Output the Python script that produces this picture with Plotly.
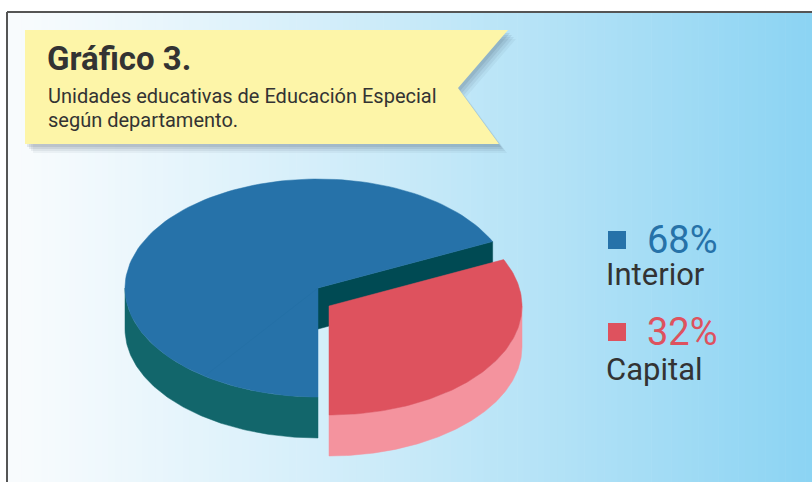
import numpy as np
import plotly.graph_objects as go

# ---- data ----
categories = ["Interior", "Capital"]
shares = [68, 32]
share_labels = ["68%", "32%"]
title_text = "Gráfico 3."
subtitle_lines = ["Unidades educativas de Educación Especial", "según departamento."]

# ---- style ----
W, H = 812, 482
TOP = {"Interior": "#2672A9", "Capital": "#DE525E"}
SIDE = {"Interior": "#12666B", "Capital": "#F4939E"}
INNER = "#004A53"
TXT = "#333333"
CX, CY = 318, 288
RX, RY = 193, 109
DEPTH = 41
EXPLODE = (11, 18)
START = -90.0  # Capital starts at front (bottom) going counter-clockwise

def arc(a0, a1, dx=0, dy=0, n=120):
    t = np.radians(np.linspace(a0, a1, n))
    return list(CX + dx + RX * np.cos(t)), list(CY + dy - RY * np.sin(t))

fig = go.Figure()

def poly(xs, ys, color):
    fig.add_trace(go.Scatter(x=xs + [xs[0]], y=ys + [ys[0]], mode="lines", fill="toself",
                             fillcolor=color, line=dict(width=0.5, color=color),
                             hoverinfo="skip", showlegend=False))

# angles from data
cap_share = shares[categories.index("Capital")]
cap_a0 = START
cap_a1 = START + cap_share / 100 * 360
int_a0 = cap_a1
int_a1 = START + 360

# Interior: outer wall (visible front half, 180..270)
wa0, wa1 = max(int_a0, 180), min(int_a1, 360)
tx, ty = arc(wa0, wa1)
bx, by = arc(wa1, wa0, dy=DEPTH)
poly(tx + bx, ty + by, SIDE["Interior"])
# Interior: inner cut face exposed by exploded slice
ex, ey = arc(int_a0, int_a0, n=1)
poly([CX, ex[0], ex[0], CX], [CY, ey[0], ey[0] + DEPTH, CY + DEPTH], INNER)
# Interior: top
ax_, ay_ = arc(int_a0, int_a1)
poly([CX] + ax_, [CY] + ay_, TOP["Interior"])
# faint seam on top surface
sx, sy = arc(234, 234, n=1)
fig.add_trace(go.Scatter(x=[CX, sx[0]], y=[CY, sy[0]], mode="lines",
                         line=dict(color="#2470A6", width=1), hoverinfo="skip", showlegend=False))

# Capital (exploded)
dx, dy = EXPLODE
wa0, wa1 = max(cap_a0, -180), min(cap_a1, 0)
tx, ty = arc(wa0, wa1, dx, dy)
bx, by = arc(wa1, wa0, dx, dy + DEPTH)
poly(tx + bx, ty + by, SIDE["Capital"])
ax_, ay_ = arc(cap_a0, cap_a1, dx, dy)
poly([CX + dx] + ax_, [CY + dy] + ay_, TOP["Capital"])

# legend markers
leg_y = [240, 332]
lab_y = [274, 369]
fig.add_trace(go.Scatter(x=[617, 617], y=leg_y, mode="markers",
                         marker=dict(symbol="square", size=18,
                                     color=[TOP[c] for c in categories], line=dict(width=0)),
                         hoverinfo="skip", showlegend=False))

shapes = []
# gradient background (inside frame)
N = 120
c0 = np.array([249, 252, 254]); c1 = np.array([140, 212, 243])
x_left = 8
for i in range(N):
    xa = x_left + (W - x_left) * i / N
    xb = x_left + (W - x_left) * (i + 1) / N + 0.6
    t = ((i + 0.5) / N) ** 1.15
    c = c0 + (c1 - c0) * t
    shapes.append(dict(type="rect", xref="x", yref="y", x0=xa, x1=xb, y0=13, y1=H,
                       fillcolor="rgb(%d,%d,%d)" % tuple(c.astype(int)), line=dict(width=0), layer="below"))
# frame
shapes.append(dict(type="line", xref="x", yref="y", x0=7, x1=7, y0=12, y1=H,
                   line=dict(color="#555555", width=2), layer="below"))
shapes.append(dict(type="line", xref="x", yref="y", x0=7, x1=W, y0=12, y1=12,
                   line=dict(color="#555555", width=2), layer="below"))
# banner shadow
def banner_path(ox, oy):
    pts = [(25, 30), (508, 30), (458, 88), (499, 144), (25, 144)]
    return "M " + " L ".join("%g,%g" % (x + ox, y + oy) for x, y in pts) + " Z"
for ox, oy, op in [(8, 9, 0.05), (6, 7, 0.07), (4, 5, 0.09), (2, 3, 0.1)]:
    shapes.append(dict(type="path", xref="x", yref="y", path=banner_path(ox, oy),
                       fillcolor="rgba(40,60,80,%g)" % op, line=dict(width=0), layer="below"))
shapes.append(dict(type="path", xref="x", yref="y", path=banner_path(0, 0),
                   fillcolor="#FDF5A8", line=dict(width=0), layer="below"))

annotations = [
    dict(x=45, y=58, text="<b>%s</b>" % title_text, showarrow=False, xanchor="left", yanchor="middle",
         font=dict(family="Roboto", size=33, color=TXT)),
    dict(x=46, y=96, text=subtitle_lines[0], showarrow=False, xanchor="left", yanchor="middle",
         font=dict(family="Roboto", size=20, color=TXT)),
    dict(x=46, y=120, text=subtitle_lines[1], showarrow=False, xanchor="left", yanchor="middle",
         font=dict(family="Roboto", size=20, color=TXT)),
]
for i, c in enumerate(categories):
    annotations.append(dict(x=645, y=leg_y[i], text=share_labels[i], showarrow=False,
                            xanchor="left", yanchor="middle",
                            font=dict(family="Roboto", size=38, color=TOP[c])))
    annotations.append(dict(x=604, y=lab_y[i], text=c, showarrow=False,
                            xanchor="left", yanchor="middle",
                            font=dict(family="Roboto", size=31, color=TXT)))

fig.update_layout(
    width=W, height=H, margin=dict(l=0, r=0, t=0, b=0),
    paper_bgcolor="white", plot_bgcolor="rgba(0,0,0,0)",
    xaxis=dict(range=[0, W], visible=False, fixedrange=True),
    yaxis=dict(range=[H, 0], visible=False, fixedrange=True),
    shapes=shapes, annotations=annotations, showlegend=False,
)
fig.write_html("out.html", config={"displayModeBar": False},
               post_script="document.body.style.margin='0';document.body.style.overflow='hidden';")
